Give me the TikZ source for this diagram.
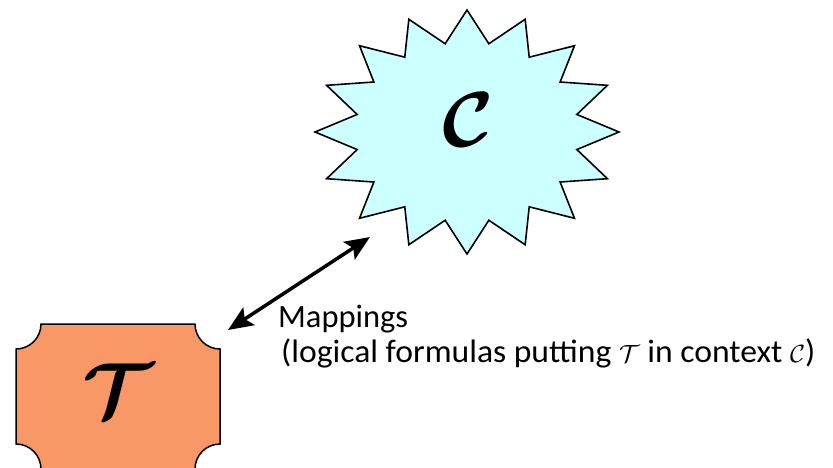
\documentclass[tikz,border=0pt]{standalone}
\usepackage{amsmath}
\usepackage{bm}
\usepackage{fontspec}
\setmainfont{Carlito}
\usetikzlibrary{arrows.meta}
\definecolor{burstcyan}{RGB}{204,255,255}
\definecolor{plaqueorange}{RGB}{248,152,102}
\tikzset{
  burst/.style={fill=burstcyan, draw=black, line width=1.6pt, line join=miter},
  plaque/.style={fill=plaqueorange, draw=black, line width=1.5pt},
  bigletter/.style={inner sep=0pt},
  maparrow/.style={line width=3.5pt, {Stealth[length=25pt,width=21pt,inset=5pt]}-{Stealth[length=25pt,width=21pt,inset=5pt]}},
  label/.style={inner sep=0pt, anchor=base west, font=\fontsize{32.5}{36}\selectfont}
}
\begin{document}
\begin{tikzpicture}[x=1pt,y=1pt]
\useasboundingbox (0,0) rectangle (833,-467);
% starburst
\begin{scope}[shift={(467,-132)}]
\draw[burst] (90:152pt and 122pt)
  \foreach \i [evaluate=\i as \rx using {mod(\i,2)==0 ? 152 : 112},
               evaluate=\i as \ry using {mod(\i,2)==0 ? 122 : 90}] in {1,...,31}
  { -- ({90-\i*11.25}:\rx pt and \ry pt) } -- cycle;
\end{scope}
\node[bigletter] (C) at (468,-120) {\scalebox{7.8}{$\bm{\mathcal{C}}$}};
% plaque
\draw[plaque] (41,-324) -- (195,-324)
  arc[start angle=180, end angle=270, radius=25] -- (220,-444)
  arc[start angle=90, end angle=180, radius=25] -- (41,-469)
  arc[start angle=0, end angle=90, radius=25] -- (16,-349)
  arc[start angle=270, end angle=360, radius=25] -- cycle;
\node[bigletter] (T) at (118,-391) {\scalebox{7.8}{$\bm{\mathcal{T}}$}};
% arrow
\coordinate (a1) at (228,-330);
\coordinate (a2) at (370,-237);
\draw[maparrow] (a1) -- (a2);
\node[label] (m1) at (278,-327) {Mappings};
\node[label] (m2) at (281,-362) {\scalebox{1.035}[1]{(logical formulas putting $\mathcal{T}$ in context $\mathcal{C}$)}};
\end{tikzpicture}
\end{document}
